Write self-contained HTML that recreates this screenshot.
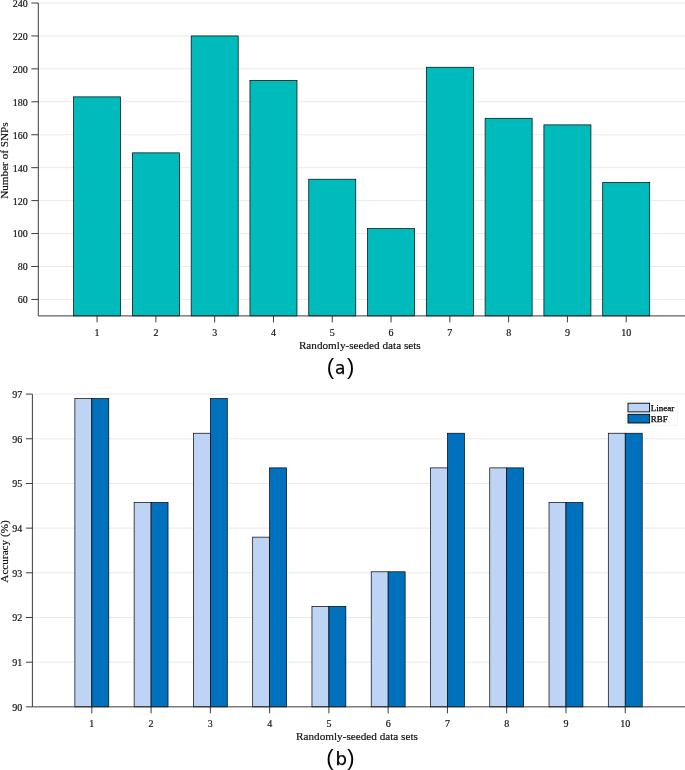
<!DOCTYPE html>
<html><head><meta charset="utf-8"><title>Figure</title>
<style>
html,body{margin:0;padding:0;background:#fff;}
body{width:685px;height:770px;overflow:hidden;}
svg{display:block;}
.t{font-family:"Liberation Serif",serif;font-size:10px;fill:#111;stroke:#111;stroke-width:0.18px;}
.l{font-family:"Liberation Serif",serif;font-size:11.2px;fill:#111;stroke:#111;stroke-width:0.18px;}
.g{font-family:"Liberation Serif",serif;font-size:9px;fill:#000;stroke:#000;stroke-width:0.25px;}
.c{font-family:"Liberation Sans",sans-serif;font-size:22px;fill:#000;}
.c .m{font-family:"DejaVu Sans","Liberation Sans",sans-serif;font-size:17px;stroke:#000;stroke-width:0.25px;}
</style></head><body>
<svg width="685" height="770" viewBox="0 0 685 770">
<rect width="685" height="770" fill="#fff"/>
<line x1="39.30" x2="685.0" y1="299.43" y2="299.43" stroke="#eaeaea" stroke-width="1"/>
<line x1="39.30" x2="685.0" y1="266.49" y2="266.49" stroke="#eaeaea" stroke-width="1"/>
<line x1="39.30" x2="685.0" y1="233.56" y2="233.56" stroke="#eaeaea" stroke-width="1"/>
<line x1="39.30" x2="685.0" y1="200.62" y2="200.62" stroke="#eaeaea" stroke-width="1"/>
<line x1="39.30" x2="685.0" y1="167.68" y2="167.68" stroke="#eaeaea" stroke-width="1"/>
<line x1="39.30" x2="685.0" y1="134.75" y2="134.75" stroke="#eaeaea" stroke-width="1"/>
<line x1="39.30" x2="685.0" y1="101.81" y2="101.81" stroke="#eaeaea" stroke-width="1"/>
<line x1="39.30" x2="685.0" y1="68.87" y2="68.87" stroke="#eaeaea" stroke-width="1"/>
<line x1="39.30" x2="685.0" y1="35.94" y2="35.94" stroke="#eaeaea" stroke-width="1"/>
<line x1="39.30" x2="685.0" y1="3.00" y2="3.00" stroke="#eaeaea" stroke-width="1"/>
<rect x="73.57" y="96.87" width="47.03" height="219.03" fill="#00bbbb" stroke="#000" stroke-width="0.7"/>
<rect x="132.37" y="152.86" width="47.03" height="163.04" fill="#00bbbb" stroke="#000" stroke-width="0.7"/>
<rect x="191.16" y="35.94" width="47.03" height="279.96" fill="#00bbbb" stroke="#000" stroke-width="0.7"/>
<rect x="249.95" y="80.40" width="47.03" height="235.50" fill="#00bbbb" stroke="#000" stroke-width="0.7"/>
<rect x="308.74" y="179.21" width="47.03" height="136.69" fill="#00bbbb" stroke="#000" stroke-width="0.7"/>
<rect x="367.53" y="228.62" width="47.03" height="87.28" fill="#00bbbb" stroke="#000" stroke-width="0.7"/>
<rect x="426.32" y="67.23" width="47.03" height="248.67" fill="#00bbbb" stroke="#000" stroke-width="0.7"/>
<rect x="485.11" y="118.28" width="47.03" height="197.62" fill="#00bbbb" stroke="#000" stroke-width="0.7"/>
<rect x="543.90" y="124.87" width="47.03" height="191.03" fill="#00bbbb" stroke="#000" stroke-width="0.7"/>
<rect x="602.69" y="182.51" width="47.03" height="133.39" fill="#00bbbb" stroke="#000" stroke-width="0.7"/>
<path d="M38.30 3.00V315.90H685.0" fill="none" stroke="#262626" stroke-width="0.9"/>
<line x1="31.30" x2="38.30" y1="299.43" y2="299.43" stroke="#262626" stroke-width="0.9"/>
<text class="t" x="27.80" y="303.33" text-anchor="end">60</text>
<line x1="31.30" x2="38.30" y1="266.49" y2="266.49" stroke="#262626" stroke-width="0.9"/>
<text class="t" x="27.80" y="270.39" text-anchor="end">80</text>
<line x1="31.30" x2="38.30" y1="233.56" y2="233.56" stroke="#262626" stroke-width="0.9"/>
<text class="t" x="27.80" y="237.46" text-anchor="end">100</text>
<line x1="31.30" x2="38.30" y1="200.62" y2="200.62" stroke="#262626" stroke-width="0.9"/>
<text class="t" x="27.80" y="204.52" text-anchor="end">120</text>
<line x1="31.30" x2="38.30" y1="167.68" y2="167.68" stroke="#262626" stroke-width="0.9"/>
<text class="t" x="27.80" y="171.58" text-anchor="end">140</text>
<line x1="31.30" x2="38.30" y1="134.75" y2="134.75" stroke="#262626" stroke-width="0.9"/>
<text class="t" x="27.80" y="138.65" text-anchor="end">160</text>
<line x1="31.30" x2="38.30" y1="101.81" y2="101.81" stroke="#262626" stroke-width="0.9"/>
<text class="t" x="27.80" y="105.71" text-anchor="end">180</text>
<line x1="31.30" x2="38.30" y1="68.87" y2="68.87" stroke="#262626" stroke-width="0.9"/>
<text class="t" x="27.80" y="72.77" text-anchor="end">200</text>
<line x1="31.30" x2="38.30" y1="35.94" y2="35.94" stroke="#262626" stroke-width="0.9"/>
<text class="t" x="27.80" y="39.84" text-anchor="end">220</text>
<line x1="31.30" x2="38.30" y1="3.00" y2="3.00" stroke="#262626" stroke-width="0.9"/>
<text class="t" x="27.80" y="6.90" text-anchor="end">240</text>
<line x1="97.09" x2="97.09" y1="315.90" y2="322.40" stroke="#262626" stroke-width="0.9"/>
<text class="t" x="97.09" y="335.60" text-anchor="middle">1</text>
<line x1="155.88" x2="155.88" y1="315.90" y2="322.40" stroke="#262626" stroke-width="0.9"/>
<text class="t" x="155.88" y="335.60" text-anchor="middle">2</text>
<line x1="214.67" x2="214.67" y1="315.90" y2="322.40" stroke="#262626" stroke-width="0.9"/>
<text class="t" x="214.67" y="335.60" text-anchor="middle">3</text>
<line x1="273.46" x2="273.46" y1="315.90" y2="322.40" stroke="#262626" stroke-width="0.9"/>
<text class="t" x="273.46" y="335.60" text-anchor="middle">4</text>
<line x1="332.25" x2="332.25" y1="315.90" y2="322.40" stroke="#262626" stroke-width="0.9"/>
<text class="t" x="332.25" y="335.60" text-anchor="middle">5</text>
<line x1="391.05" x2="391.05" y1="315.90" y2="322.40" stroke="#262626" stroke-width="0.9"/>
<text class="t" x="391.05" y="335.60" text-anchor="middle">6</text>
<line x1="449.84" x2="449.84" y1="315.90" y2="322.40" stroke="#262626" stroke-width="0.9"/>
<text class="t" x="449.84" y="335.60" text-anchor="middle">7</text>
<line x1="508.63" x2="508.63" y1="315.90" y2="322.40" stroke="#262626" stroke-width="0.9"/>
<text class="t" x="508.63" y="335.60" text-anchor="middle">8</text>
<line x1="567.42" x2="567.42" y1="315.90" y2="322.40" stroke="#262626" stroke-width="0.9"/>
<text class="t" x="567.42" y="335.60" text-anchor="middle">9</text>
<line x1="626.21" x2="626.21" y1="315.90" y2="322.40" stroke="#262626" stroke-width="0.9"/>
<text class="t" x="626.21" y="335.60" text-anchor="middle">10</text>
<text class="l" x="359.8" y="349.2" text-anchor="middle">Randomly-seeded data sets</text>
<text class="l" transform="translate(7.8,160.6) rotate(-90)" text-anchor="middle">Number of SNPs</text>
<text class="c" y="373.7"><tspan x="326.8">(</tspan><tspan class="m" x="335.0">a</tspan><tspan x="347.1">)</tspan></text>
<line x1="33.40" x2="685.0" y1="662.17" y2="662.17" stroke="#eaeaea" stroke-width="1"/>
<line x1="33.40" x2="685.0" y1="617.49" y2="617.49" stroke="#eaeaea" stroke-width="1"/>
<line x1="33.40" x2="685.0" y1="572.81" y2="572.81" stroke="#eaeaea" stroke-width="1"/>
<line x1="33.40" x2="685.0" y1="528.14" y2="528.14" stroke="#eaeaea" stroke-width="1"/>
<line x1="33.40" x2="685.0" y1="483.46" y2="483.46" stroke="#eaeaea" stroke-width="1"/>
<line x1="33.40" x2="685.0" y1="438.78" y2="438.78" stroke="#eaeaea" stroke-width="1"/>
<line x1="33.40" x2="685.0" y1="394.10" y2="394.10" stroke="#eaeaea" stroke-width="1"/>
<rect x="74.87" y="398.60" width="16.95" height="308.25" fill="#bdd4f4" stroke="#000" stroke-width="0.7"/>
<rect x="91.82" y="398.60" width="16.95" height="308.25" fill="#0072bd" stroke="#000" stroke-width="0.7"/>
<rect x="134.14" y="502.51" width="16.95" height="204.34" fill="#bdd4f4" stroke="#000" stroke-width="0.7"/>
<rect x="151.09" y="502.51" width="16.95" height="204.34" fill="#0072bd" stroke="#000" stroke-width="0.7"/>
<rect x="193.41" y="433.24" width="16.95" height="273.61" fill="#bdd4f4" stroke="#000" stroke-width="0.7"/>
<rect x="210.36" y="398.60" width="16.95" height="308.25" fill="#0072bd" stroke="#000" stroke-width="0.7"/>
<rect x="252.68" y="537.14" width="16.95" height="169.71" fill="#bdd4f4" stroke="#000" stroke-width="0.7"/>
<rect x="269.63" y="467.87" width="16.95" height="238.98" fill="#0072bd" stroke="#000" stroke-width="0.7"/>
<rect x="311.95" y="606.41" width="16.95" height="100.44" fill="#bdd4f4" stroke="#000" stroke-width="0.7"/>
<rect x="328.90" y="606.41" width="16.95" height="100.44" fill="#0072bd" stroke="#000" stroke-width="0.7"/>
<rect x="371.22" y="571.78" width="16.95" height="135.07" fill="#bdd4f4" stroke="#000" stroke-width="0.7"/>
<rect x="388.17" y="571.78" width="16.95" height="135.07" fill="#0072bd" stroke="#000" stroke-width="0.7"/>
<rect x="430.49" y="467.87" width="16.95" height="238.98" fill="#bdd4f4" stroke="#000" stroke-width="0.7"/>
<rect x="447.44" y="433.24" width="16.95" height="273.61" fill="#0072bd" stroke="#000" stroke-width="0.7"/>
<rect x="489.76" y="467.87" width="16.95" height="238.98" fill="#bdd4f4" stroke="#000" stroke-width="0.7"/>
<rect x="506.71" y="467.87" width="16.95" height="238.98" fill="#0072bd" stroke="#000" stroke-width="0.7"/>
<rect x="549.03" y="502.51" width="16.95" height="204.34" fill="#bdd4f4" stroke="#000" stroke-width="0.7"/>
<rect x="565.98" y="502.51" width="16.95" height="204.34" fill="#0072bd" stroke="#000" stroke-width="0.7"/>
<rect x="608.30" y="433.24" width="16.95" height="273.61" fill="#bdd4f4" stroke="#000" stroke-width="0.7"/>
<rect x="625.25" y="433.24" width="16.95" height="273.61" fill="#0072bd" stroke="#000" stroke-width="0.7"/>
<path d="M32.40 394.10V706.85H685.0" fill="none" stroke="#262626" stroke-width="0.9"/>
<line x1="25.90" x2="32.40" y1="706.85" y2="706.85" stroke="#262626" stroke-width="0.9"/>
<text class="t" x="22.30" y="710.75" text-anchor="end">90</text>
<line x1="25.90" x2="32.40" y1="662.17" y2="662.17" stroke="#262626" stroke-width="0.9"/>
<text class="t" x="22.30" y="666.07" text-anchor="end">91</text>
<line x1="25.90" x2="32.40" y1="617.49" y2="617.49" stroke="#262626" stroke-width="0.9"/>
<text class="t" x="22.30" y="621.39" text-anchor="end">92</text>
<line x1="25.90" x2="32.40" y1="572.81" y2="572.81" stroke="#262626" stroke-width="0.9"/>
<text class="t" x="22.30" y="576.71" text-anchor="end">93</text>
<line x1="25.90" x2="32.40" y1="528.14" y2="528.14" stroke="#262626" stroke-width="0.9"/>
<text class="t" x="22.30" y="532.04" text-anchor="end">94</text>
<line x1="25.90" x2="32.40" y1="483.46" y2="483.46" stroke="#262626" stroke-width="0.9"/>
<text class="t" x="22.30" y="487.36" text-anchor="end">95</text>
<line x1="25.90" x2="32.40" y1="438.78" y2="438.78" stroke="#262626" stroke-width="0.9"/>
<text class="t" x="22.30" y="442.68" text-anchor="end">96</text>
<line x1="25.90" x2="32.40" y1="394.10" y2="394.10" stroke="#262626" stroke-width="0.9"/>
<text class="t" x="22.30" y="398.00" text-anchor="end">97</text>
<line x1="91.82" x2="91.82" y1="706.85" y2="713.35" stroke="#262626" stroke-width="0.9"/>
<text class="t" x="91.82" y="726.55" text-anchor="middle">1</text>
<line x1="151.09" x2="151.09" y1="706.85" y2="713.35" stroke="#262626" stroke-width="0.9"/>
<text class="t" x="151.09" y="726.55" text-anchor="middle">2</text>
<line x1="210.36" x2="210.36" y1="706.85" y2="713.35" stroke="#262626" stroke-width="0.9"/>
<text class="t" x="210.36" y="726.55" text-anchor="middle">3</text>
<line x1="269.63" x2="269.63" y1="706.85" y2="713.35" stroke="#262626" stroke-width="0.9"/>
<text class="t" x="269.63" y="726.55" text-anchor="middle">4</text>
<line x1="328.90" x2="328.90" y1="706.85" y2="713.35" stroke="#262626" stroke-width="0.9"/>
<text class="t" x="328.90" y="726.55" text-anchor="middle">5</text>
<line x1="388.17" x2="388.17" y1="706.85" y2="713.35" stroke="#262626" stroke-width="0.9"/>
<text class="t" x="388.17" y="726.55" text-anchor="middle">6</text>
<line x1="447.44" x2="447.44" y1="706.85" y2="713.35" stroke="#262626" stroke-width="0.9"/>
<text class="t" x="447.44" y="726.55" text-anchor="middle">7</text>
<line x1="506.71" x2="506.71" y1="706.85" y2="713.35" stroke="#262626" stroke-width="0.9"/>
<text class="t" x="506.71" y="726.55" text-anchor="middle">8</text>
<line x1="565.98" x2="565.98" y1="706.85" y2="713.35" stroke="#262626" stroke-width="0.9"/>
<text class="t" x="565.98" y="726.55" text-anchor="middle">9</text>
<line x1="625.25" x2="625.25" y1="706.85" y2="713.35" stroke="#262626" stroke-width="0.9"/>
<text class="t" x="625.25" y="726.55" text-anchor="middle">10</text>
<text class="l" x="357" y="740.2" text-anchor="middle">Randomly-seeded data sets</text>
<text class="l" transform="translate(7.9,551.5) rotate(-90)" text-anchor="middle">Accuracy (%)</text>
<text class="c" y="764.6"><tspan x="326.3">(</tspan><tspan class="m" x="335.6" style="font-size:18.1px">b</tspan><tspan x="347.3">)</tspan></text>
<rect x="625.8" y="401" width="51.5" height="24.2" fill="#fff" stroke="#f0f0f0" stroke-width="0.8"/>
<rect x="628" y="403.2" width="21.6" height="8.7" fill="#bdd4f4" stroke="#000" stroke-width="0.9"/>
<rect x="628" y="414.3" width="21.6" height="8.7" fill="#0072bd" stroke="#000" stroke-width="0.9"/>
<text class="g" x="650.8" y="410.7">Linear</text>
<text class="g" x="650.8" y="421.8">RBF</text>
</svg>
</body></html>
